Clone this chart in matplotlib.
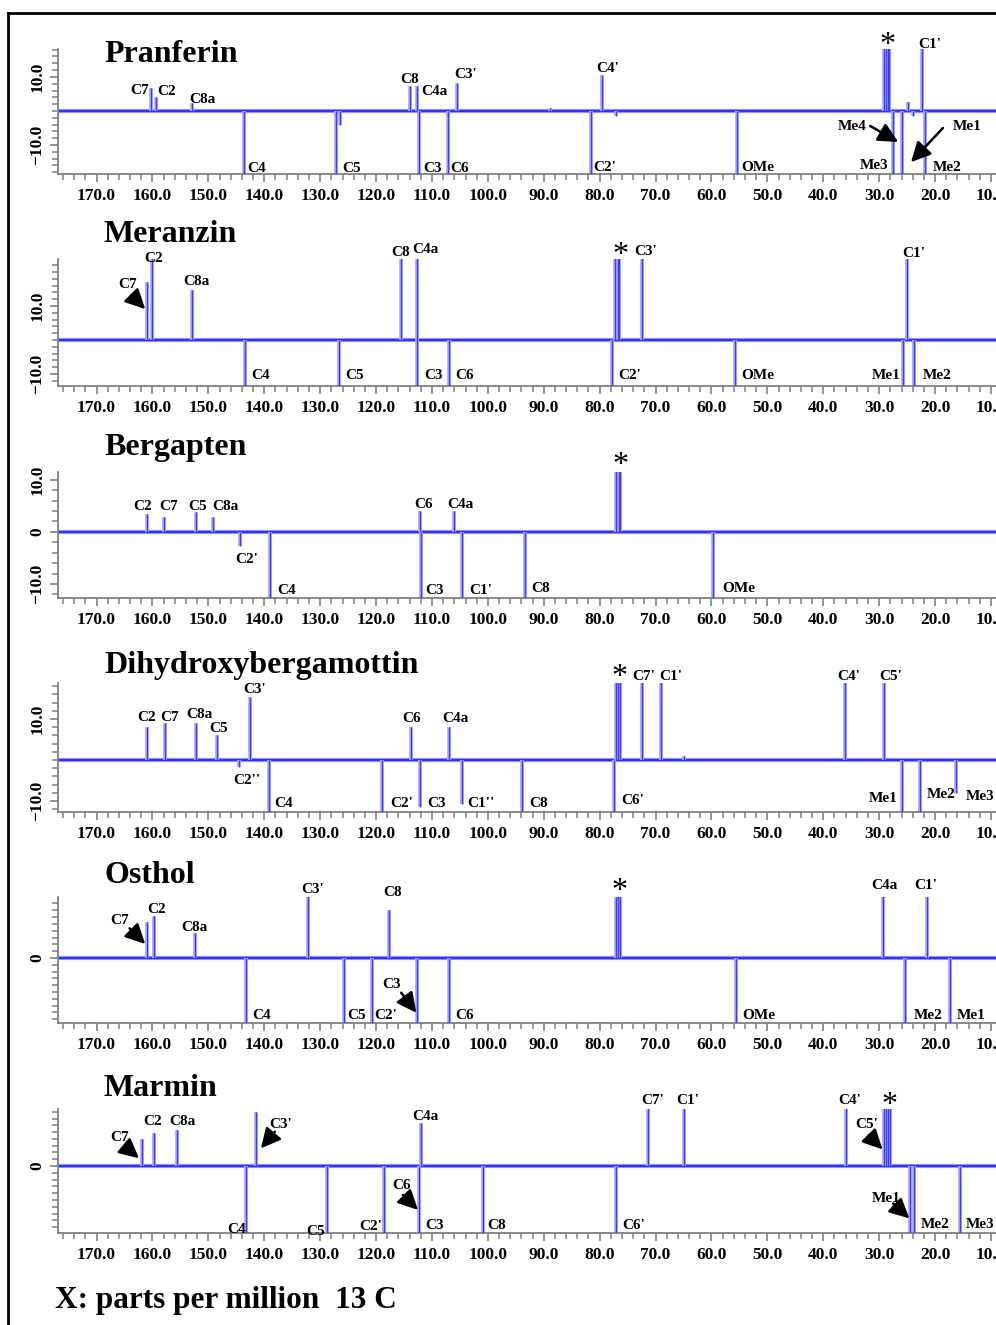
from matplotlib import pyplot as plt
from matplotlib.ticker import MultipleLocator
from matplotlib.lines import Line2D

plt.rcParams['font.family'] = ['Liberation Serif', 'DejaVu Serif']

# --- data: peak positions (ppm) and intensities, per compound ---
pran_ppm = [160.2, 159.4, 152.9, 143.6, 127.1, 126.5, 114.0, 112.6, 112.3, 107.2, 105.5, 88.9,
            81.5, 79.5, 77.0, 55.5, 29.1, 28.8, 28.5, 28.2, 27.6, 25.9, 24.9, 23.9, 22.3, 21.8]
pran_int = [6.7, 4.2, 2.4, -25, -25, -4, 7.2, 7.4, -25, -25, 8.1, 0.8,
            -25, 10.6, -1.5, -25, 25, 25, 25, 25, -25, -25, 2.5, -1.5, 25, -25]
pran_labels = [("C7", 162.3, 6.0), ("C2", 157.5, 5.7), ("C8a", 151.1, 3.5), ("C4", 141.4, -16.9),
               ("C5", 124.4, -16.9), ("C8", 114.0, 9.1), ("C4a", 109.5, 5.7), ("C3", 109.9, -16.9),
               ("C6", 105.0, -16.9), ("C3'", 104.0, 10.6), ("C4'", 78.5, 12.6), ("C2'", 79.1, -16.5),
               ("OMe", 51.7, -16.5), ("*", 28.6, 20.3), ("C1'", 20.9, 19.4), ("Me4", 34.9, -4.7),
               ("Me1", 14.3, -4.7), ("Me3", 30.9, -15.9), ("Me2", 17.9, -16.5)]
pran_arrows = [((31.6, -4.4), (26.6, -9.1)), ((18.6, -5.0), (24.3, -15.0))]

mer_ppm = [160.9, 160.1, 153.0, 143.5, 126.6, 115.5, 112.7, 112.6, 107.0, 77.8, 77.2, 76.8, 76.5,
           72.5, 55.8, 25.7, 25.1, 23.7]
mer_int = [16.9, 25, 14.7, -25, -25, 25, 25, -25, -25, -25, 25, 25, 25,
           25, -25, -25, 25, -25]
mer_labels = [("C7", 164.4, 16.2), ("C2", 159.8, 23.8), ("C8a", 152.1, 17.2), ("C4", 140.6, -10.3),
              ("C5", 123.8, -10.3), ("C8", 115.7, 25.7), ("C4a", 111.1, 26.5), ("C3", 109.8, -10.3),
              ("C6", 104.1, -10.3), ("*", 76.3, 26.0), ("C3'", 71.7, 26.0), ("C2'", 74.6, -10.3),
              ("OMe", 51.8, -10.3), ("C1'", 23.9, 25.5), ("Me1", 28.8, -10.3), ("Me2", 19.6, -10.3)]
mer_arrows = [((163.8, 13.2), (161.3, 9.1))]

berg_ppm = [160.9, 158.0, 152.3, 149.2, 144.4, 138.9, 112.2, 112.0, 106.0, 104.6, 93.4,
            77.0, 76.6, 76.3, 59.7]
berg_int = [3.4, 2.9, 3.8, 2.9, -2.8, -25, 4.0, -25, 4.0, -25, -25,
            25, 25, 25, -25]
berg_labels = [("C2", 161.8, 4.9), ("C7", 157.1, 4.9), ("C5", 152.0, 4.9), ("C8a", 147.0, 4.9),
               ("C2'", 143.2, -5.4), ("C4", 136.1, -11.2), ("C6", 111.5, 5.3), ("C4a", 105.0, 5.3),
               ("C3", 109.6, -11.2), ("C1'", 101.3, -11.2), ("*", 76.3, 13.5), ("C8", 90.6, -10.8),
               ("OMe", 55.2, -10.8)]
berg_arrows = []

dhb_ppm = [160.9, 157.7, 152.2, 148.5, 144.5, 142.5, 139.2, 118.9, 113.8, 112.1, 107.0, 104.6,
           93.9, 77.4, 77.1, 76.7, 76.3, 72.5, 69.1, 65.0, 36.1, 29.1, 26.0, 22.7, 16.2]
dhb_int = [8.0, 9.1, 9.1, 6.1, -1.8, 15.3, -25, -25, 8.0, -11.4, 8.0, -10.7,
           -25, -25, 25, 25, 25, 25, 25, 1.0, 25, 25, -25, -25, -8.1]
dhb_labels = [("C2", 161.0, 10.4), ("C7", 156.9, 10.4), ("C8a", 151.6, 11.2), ("C5", 148.1, 7.7),
              ("C3'", 141.8, 17.1), ("C2''", 143.2, -4.9), ("C4", 136.6, -10.6), ("C6", 113.7, 10.2),
              ("C4a", 105.8, 10.2), ("C2'", 115.5, -10.6), ("C3", 109.2, -10.6), ("C1''", 101.2, -10.6),
              ("C8", 91.0, -10.6), ("*", 76.5, 21.1), ("C7'", 72.1, 20.5), ("C1'", 67.3, 20.5),
              ("C6'", 74.1, -9.8), ("C4'", 35.5, 20.5), ("C5'", 28.0, 20.5), ("Me1", 29.3, -9.3),
              ("Me2", 19.0, -8.5), ("Me3", 11.9, -9.0)]
dhb_arrows = []

ost_ppm = [161.0, 159.8, 152.4, 143.3, 132.2, 125.7, 120.7, 117.6, 112.6, 106.9, 77.0, 76.7, 76.4,
           55.6, 29.3, 25.4, 21.5, 17.4]
ost_int = [10.7, 12.4, 7.3, -25, 25, -25, -25, 14.1, -25, -25, 25, 25, 25,
           -25, 25, -25, 25, -25]
ost_labels = [("C7", 165.9, 11.0), ("C2", 159.3, 14.1), ("C8a", 152.5, 9.0), ("C3'", 131.3, 20.0),
              ("C8", 117.1, 19.2), ("C4", 140.5, -16.8), ("C5", 123.5, -16.8), ("C2'", 118.2, -16.8),
              ("C3", 117.3, -7.9), ("C6", 104.1, -16.8), ("*", 76.4, 20.8), ("C4a", 29.1, 21.2),
              ("C1'", 21.6, 21.2), ("OMe", 51.5, -16.8), ("Me2", 21.2, -16.8), ("Me1", 13.6, -16.8)]
ost_arrows = [((164.1, 8.7), (161.3, 4.1)), ((115.5, -10.2), (112.8, -16.1))]

marm_ppm = [161.8, 159.8, 155.6, 143.3, 141.5, 128.7, 118.5, 112.3, 112.0, 100.9, 77.1, 71.4,
            64.9, 36.0, 29.1, 28.8, 28.5, 28.1, 24.5, 23.8, 15.5]
marm_int = [8.1, 9.6, 10.6, -25, 16, -25, -25, -25, 12.7, -25, -25, 25,
            25, 25, 25, 25, 25, 25, -25, -25, -25]
marm_labels = [("C7", 165.9, 8.4), ("C2", 160.0, 13.0), ("C8a", 154.6, 13.0), ("C3'", 137.0, 12.1),
               ("C4a", 111.1, 14.7), ("C4", 145.0, -18.8), ("C5", 130.8, -19.3), ("C2'", 121.0, -17.8),
               ("C6", 115.5, -5.6), ("C3", 109.5, -17.6), ("C8", 98.5, -17.4), ("C6'", 74.0, -17.4),
               ("C7'", 70.6, 19.2), ("C1'", 64.3, 19.2), ("C4'", 35.2, 19.2), ("*", 28.1, 18.9),
               ("C5'", 32.3, 12.1), ("Me1", 28.8, -9.5), ("Me2", 20.0, -17.1), ("Me3", 11.9, -17.1)]
marm_arrows = [((165.0, 5.9), (162.4, 2.3)), ((138.1, 10.1), (140.6, 5.2)),
               ((115.2, -8.5), (112.5, -12.9)), ((31.9, 9.1), (29.4, 4.9)),
               ((27.5, -11.0), (24.6, -15.4))]

names = ["Pranferin", "Meranzin", "Bergapten", "Dihydroxybergamottin", "Osthol", "Marmin"]
ytick_vals = [[-10, 10], [-10, 10], [-10, 0, 10], [-10, 10], [0], [0]]

# --- layout (pixels of the 996 x 1325 canvas) ---
W, H = 996.0, 1325.0
axes_px = [(49, 174), (259, 386), (472, 598), (683, 812), (897, 1023), (1109, 1233)]
ylims = [(-18.5, 18.2), (-13.5, 23.8), (-12.7, 11.5), (-12.7, 18.8), (-19.1, 17.9), (-19.7, 16.8)]
title_base = [62, 242, 455, 673, 883, 1096]

panels = [(pran_ppm, pran_int, pran_labels, pran_arrows),
          (mer_ppm, mer_int, mer_labels, mer_arrows),
          (berg_ppm, berg_int, berg_labels, berg_arrows),
          (dhb_ppm, dhb_int, dhb_labels, dhb_arrows),
          (ost_ppm, ost_int, ost_labels, ost_arrows),
          (marm_ppm, marm_int, marm_labels, marm_arrows)]

fig = plt.figure(figsize=(W / 100, H / 100), dpi=100)
left = 58 / W
grey = '#808080'
blue = '#2a2af5'

for i, (ppm, inten, labels, arrows) in enumerate(panels):
    top, bot = axes_px[i]
    ax = fig.add_axes([left, 1 - bot / H, 1 - left, (bot - top) / H])
    ax.set_xlim(176.9, 9.1)
    ax.set_ylim(*ylims[i])
    ax.patch.set_alpha(0)

    # spectrum: baseline + peaks
    ax.axhline(0, color='#9090ff', lw=3.0, zorder=1)
    ax.axhline(0, color=blue, lw=1.3, zorder=2)
    ax.vlines(ppm, 0, inten, color='#b0b0ff', lw=2.8, zorder=2)
    ax.vlines(ppm, 0, inten, color='#3c3cff', lw=1.0, zorder=3)

    for s in ['top', 'right']:
        ax.spines[s].set_visible(False)
    for s in ['left', 'bottom']:
        ax.spines[s].set_color(grey)
        ax.spines[s].set_linewidth(1.3)

    ax.xaxis.set_major_locator(MultipleLocator(10))
    ax.xaxis.set_minor_locator(MultipleLocator(2))
    ax.set_xticks(ax.get_xticks())
    ax.set_xticklabels(['%.1f' % t for t in ax.get_xticks()], fontsize=12.5, fontweight='bold')
    ax.set_xlim(176.9, 9.1)

    yv = ytick_vals[i]
    ax.set_yticks(yv)
    ax.set_yticklabels([('%.1f' % v).replace('-', '\u2212') if v != 0 else '0' for v in yv],
                       rotation=90, va='center', fontsize=12.5, fontweight='bold')
    ax.yaxis.set_minor_locator(MultipleLocator(2))

    ax.tick_params(which='major', direction='out', length=6, width=1.2, color=grey, pad=4)
    ax.tick_params(which='minor', direction='out', length=4, width=1.1, color=grey)
    ax.tick_params(axis='y', pad=3)

    for txt, x, y in labels:
        if txt == '*':
            ax.text(x, y - 1.2 * (ylims[i][1] - ylims[i][0]) / 37, '*', ha='center', va='center',
                    fontsize=23, clip_on=False)
        else:
            ax.text(x, y, txt, ha='center', va='center', fontsize=11, fontweight='bold',
                    clip_on=False)
    for start, tip in arrows:
        ax.annotate('', xy=tip, xytext=start,
                    arrowprops=dict(arrowstyle='-|>,head_length=1.0,head_width=0.5', color='black',
                                    lw=1.8, shrinkA=0, shrinkB=0, mutation_scale=12))

    fig.text(104 / W, 1 - title_base[i] / H, names[i], fontsize=23, fontweight='bold',
             ha='left', va='baseline')

fig.text(55 / W, 1 - 1308 / H, 'X: parts per million  13 C', fontsize=22.5, fontweight='bold',
         ha='left', va='baseline')

# outer frame (left and top edges)
fig.add_artist(Line2D([8 / W, 8 / W], [0, 1 - 13 / H], color='black', lw=2))
fig.add_artist(Line2D([8 / W, 1], [1 - 13 / H, 1 - 13 / H], color='black', lw=2))

fig.savefig('out.png', dpi=100)
